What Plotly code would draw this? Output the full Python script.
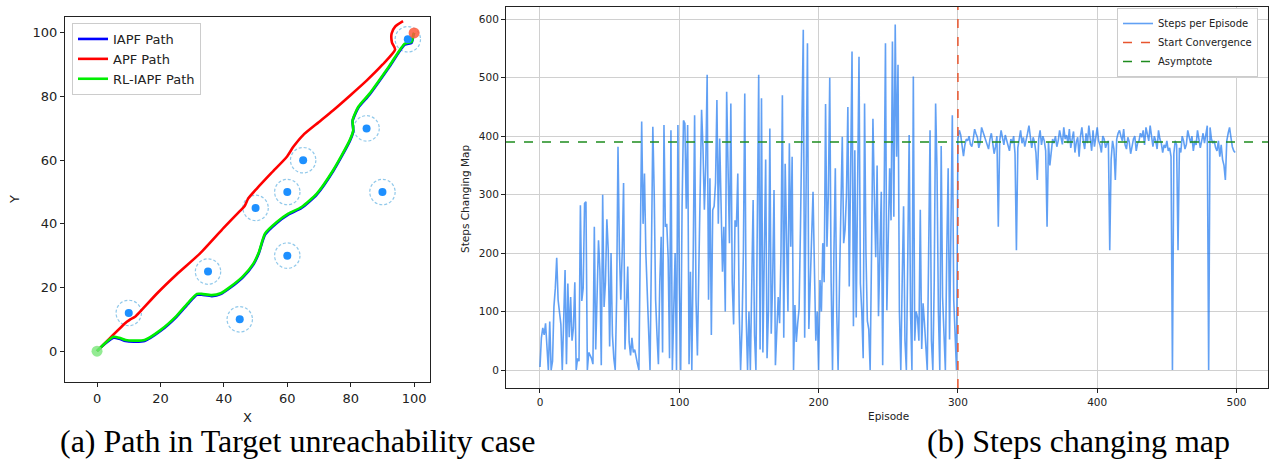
import plotly.graph_objects as go

# ---------------- data: left panel (paths) ----------------
apf_x = [0, 4, 9.4, 10.5, 12, 13.6, 18.9, 25, 32.5, 40, 45.1, 46.5, 47.7, 50.4, 55, 59.8, 61.9, 65, 70, 74.5, 80, 85, 90, 94, 93, 92.9, 94, 96.5]
apf_y = [0, 4, 9.2, 10, 10.8, 12.4, 18.1, 24, 30.7, 38.8, 44.1, 45.5, 48, 51.1, 56, 61, 64.2, 67.9, 72, 75.7, 80.5, 85, 90, 94.8, 97, 99.8, 102, 103.7]

iapf_x = [0, 2.5, 5.2, 7, 9, 11.5, 15, 20, 25, 29, 31.5, 33, 36.2, 39, 42, 46, 49.3, 51, 53, 56.7, 60.3, 64.5, 69.3, 74.5, 79.7, 80.8, 80.6, 82.4, 86, 92.3, 97, 99.2, 99.7, 100]
iapf_y = [0, 2.3, 4.2, 3.9, 3.2, 3.0, 3.2, 6.3, 10.7, 15.2, 17.7, 17.7, 17.3, 17.9, 19.9, 23.2, 27.2, 30.7, 36.6, 40.3, 42.9, 45.0, 49.2, 56.6, 66.0, 69.1, 72.3, 76.5, 80.7, 89.5, 96.3, 96.9, 99.0, 100]

rl_x = [0, 2.5, 5.2, 7, 9, 11.5, 15, 20, 25, 29, 31.5, 33, 36.2, 39, 42, 46, 49.3, 51, 53, 56.7, 60.3, 64.5, 69.3, 74.5, 79.7, 80.8, 80.6, 82.4, 86, 92.3, 97, 99.2, 99.7, 100]
rl_y = [0, 2.5, 4.5, 4.2, 3.5, 3.3, 3.5, 6.6, 11, 15.5, 18, 18, 17.6, 18.2, 20.2, 23.5, 27.5, 31, 37, 40.6, 43.2, 45.3, 49.5, 56.9, 66.3, 69.4, 72.6, 76.8, 81, 89.8, 96.6, 97.2, 99.3, 100]

obstacle_x = [10, 35, 45, 50, 60, 60, 65, 85, 90, 98]
obstacle_y = [12, 25, 10, 45, 50, 30, 60, 70, 50, 98]
obstacle_r = 4
start_xy = (0, 0)
goal_xy = (100, 100)

# ---------------- data: right panel (steps) ----------------
steps_0_299 = [
    5, 55, 72, 60, 80, 35, 0, 83, 0, 15,
    108, 140, 192, 120, 95, 78, 0, 100, 171, 10,
    148, 56, 125, 50, 72, 150, 0, 20, 15, 282,
    118, 140, 285, 288, 0, 30, 25, 20, 10, 245,
    35, 130, 222, 171, 8, 300, 108, 150, 258, 205,
    40, 200, 60, 20, 0, 120, 382, 206, 120, 200,
    320, 35, 100, 177, 48, 25, 55, 30, 35, 20,
    10, 0, 200, 425, 250, 336, 200, 120, 40, 0,
    200, 416, 300, 120, 60, 10, 150, 228, 30, 419,
    245, 250, 193, 20, 410, 0, 100, 200, 0, 419,
    150, 0, 280, 427, 422, 276, 419, 10, 168, 0,
    200, 436, 120, 25, 170, 300, 445, 380, 274, 350,
    505, 120, 328, 60, 274, 280, 320, 462, 250, 396,
    262, 168, 245, 100, 476, 300, 217, 456, 150, 78,
    256, 245, 336, 100, 0, 70, 200, 473, 92, 0,
    100, 0, 150, 291, 60, 0, 250, 505, 35, 465,
    30, 200, 360, 20, 100, 413, 62, 150, 308, 8,
    60, 125, 80, 200, 470, 55, 353, 213, 100, 388,
    211, 365, 0, 111, 48, 80, 105, 245, 400, 582,
    55, 300, 559, 70, 150, 250, 305, 174, 50, 100,
    0, 154, 100, 217, 150, 455, 211, 300, 500, 150,
    0, 200, 345, 100, 0, 150, 250, 399, 217, 240,
    300, 450, 143, 350, 545, 75, 376, 90, 300, 536,
    148, 100, 20, 456, 200, 84, 70, 0, 200, 430,
    300, 193, 350, 92, 200, 305, 8, 300, 559, 102,
    200, 345, 256, 562, 262, 591, 365, 522, 100, 0,
    150, 280, 50, 0, 190, 402, 100, 0, 502, 50,
    100, 90, 50, 274, 36, 114, 80, 40, 0, 200,
    410, 50, 0, 150, 456, 342, 100, 0, 383, 125,
    60, 0, 200, 345, 52, 300, 436, 120, 50, 0,
]
steps_300_499 = [
    395, 410, 402, 378, 366, 385, 395, 392, 400, 386,
    382, 395, 412, 404, 398, 380, 390, 415, 408, 400,
    392, 385, 378, 395, 405, 388, 370, 382, 400, 245,
    392, 410, 398, 385, 402, 392, 380, 375, 395, 388,
    400, 370, 205, 380, 395, 410, 388, 398, 382, 392,
    405, 418, 392, 380, 398, 390, 372, 325, 395, 410,
    385, 400, 392, 375, 245, 390, 350, 380, 395, 388,
    400, 382, 392, 410, 398, 386, 415, 395, 402, 388,
    412, 380, 395, 408, 372, 390, 398, 365, 400, 415,
    392, 378, 405, 388, 418, 395, 375, 410, 382, 398,
    415, 392, 385, 372, 400, 395, 380, 388, 392, 205,
    360, 392, 378, 325, 395, 405, 410, 400, 392, 412,
    385, 378, 398, 390, 370, 382, 395, 400, 375, 388,
    392, 405, 398, 410, 385, 415, 400, 392, 418, 395,
    382, 400, 392, 378, 410, 395, 388, 372, 385, 380,
    392, 375, 380, 365, 0, 370, 392, 385, 205, 380,
    372, 400, 392, 378, 386, 410, 395, 388, 400, 375,
    392, 385, 410, 398, 380, 392, 405, 388, 400, 418,
    0, 415, 395, 388, 392, 380, 375, 392, 365, 385,
    360, 350, 325, 392, 405, 415, 398, 382, 375, 372,
]
steps = steps_0_299 + steps_300_499
episodes = list(range(len(steps)))
convergence_episode = 300
asymptote = 390

# ---------------- figure ----------------
W, H = 1269, 459
fig = go.Figure()

fig.add_trace(go.Scatter(x=iapf_x, y=iapf_y, mode="lines", name="IAPF Path",
                         line=dict(color="#0000FF", width=2.6, shape="spline", smoothing=0.6),
                         xaxis="x", yaxis="y", legend="legend"))
fig.add_trace(go.Scatter(x=apf_x, y=apf_y, mode="lines", name="APF Path",
                         line=dict(color="#FF0000", width=2.6, shape="spline", smoothing=0.6),
                         xaxis="x", yaxis="y", legend="legend"))
fig.add_trace(go.Scatter(x=rl_x, y=rl_y, mode="lines", name="RL-IAPF Path",
                         line=dict(color="#00EE00", width=2.6, shape="spline", smoothing=0.6),
                         xaxis="x", yaxis="y", legend="legend"))
fig.add_trace(go.Scatter(x=obstacle_x, y=obstacle_y, mode="markers", showlegend=False,
                         marker=dict(color="#1E90FF", size=8),
                         xaxis="x", yaxis="y"))
fig.add_trace(go.Scatter(x=[start_xy[0]], y=[start_xy[1]], mode="markers", showlegend=False,
                         marker=dict(color="rgba(120,230,120,0.8)", size=11),
                         xaxis="x", yaxis="y"))
fig.add_trace(go.Scatter(x=[goal_xy[0]], y=[goal_xy[1]], mode="markers", showlegend=False,
                         marker=dict(color="rgba(255,90,60,0.85)", size=11),
                         xaxis="x", yaxis="y"))

for ox, oy in zip(obstacle_x, obstacle_y):
    fig.add_shape(type="circle", xref="x", yref="y", layer="below",
                  x0=ox - obstacle_r, x1=ox + obstacle_r, y0=oy - obstacle_r, y1=oy + obstacle_r,
                  line=dict(color="rgba(125,190,230,0.85)", width=1.2, dash="3px,2px"))

fig.add_trace(go.Scatter(x=episodes, y=steps, mode="lines", name="Steps per Episode",
                         line=dict(color="rgba(30,120,240,0.7)", width=1.6),
                         xaxis="x2", yaxis="y2", legend="legend2"))
fig.add_trace(go.Scatter(x=[None], y=[None], mode="lines", name="Start Convergence",
                         line=dict(color="#E8552E", width=1.5, dash="dash"),
                         xaxis="x2", yaxis="y2", legend="legend2"))
fig.add_trace(go.Scatter(x=[None], y=[None], mode="lines", name="Asymptote",
                         line=dict(color="#1E8C1E", width=1.5, dash="dash"),
                         xaxis="x2", yaxis="y2", legend="legend2"))
fig.add_shape(type="line", xref="x2", yref="y2 domain", x0=convergence_episode, x1=convergence_episode,
              y0=0, y1=1, line=dict(color="#E8552E", width=1.5, dash="dash"))
fig.add_shape(type="line", xref="x2 domain", yref="y2", x0=0, x1=1, y0=asymptote, y1=asymptote,
              line=dict(color="#1E8C1E", width=1.5, dash="dash"))

tickfont_l = dict(family="DejaVu Sans", size=13, color="#222")
tickfont_r = dict(family="DejaVu Sans", size=10.5, color="#222")

fig.update_layout(
    width=W, height=H,
    margin=dict(l=0, r=0, t=0, b=0),
    paper_bgcolor="white", plot_bgcolor="white",
    xaxis=dict(domain=[65 / W, 430 / W], range=[-10.1, 105], tickvals=[0, 20, 40, 60, 80, 100],
               showgrid=False, zeroline=False, showline=True, mirror=True, linecolor="#222", linewidth=1,
               ticks="outside", ticklen=4, tickcolor="#222", tickfont=tickfont_l, anchor="y"),
    yaxis=dict(domain=[1 - 382 / H, 1 - 17 / H], range=[-9.7, 105], tickvals=[0, 20, 40, 60, 80, 100],
               showgrid=False, zeroline=False, showline=True, mirror=True, linecolor="#222", linewidth=1,
               ticks="outside", ticklen=4, tickcolor="#222", tickfont=tickfont_l, anchor="x"),
    xaxis2=dict(domain=[506 / W, 1268 / W], range=[-24.4, 522.6], tickvals=[0, 100, 200, 300, 400, 500],
                showgrid=True, gridcolor="#d0d0d0", gridwidth=1, zeroline=False,
                showline=True, mirror=True, linecolor="#222", linewidth=1,
                ticks="outside", ticklen=4, tickcolor="#222", tickfont=tickfont_r, anchor="y2"),
    yaxis2=dict(domain=[1 - 388 / H, 1 - 7 / H], range=[-30.8, 621], tickvals=[0, 100, 200, 300, 400, 500, 600],
                showgrid=True, gridcolor="#d0d0d0", gridwidth=1, zeroline=False,
                showline=True, mirror=True, linecolor="#222", linewidth=1,
                ticks="outside", ticklen=4, tickcolor="#222", tickfont=tickfont_r, anchor="x2"),
    legend=dict(x=72 / W, y=1 - 23 / H, xanchor="left", yanchor="top",
                bgcolor="white", bordercolor="#cccccc", borderwidth=1,
                font=dict(family="DejaVu Sans", size=13, color="#222"), tracegroupgap=0),
    legend2=dict(x=1117 / W, y=1 - 8 / H, xanchor="left", yanchor="top",
                 bgcolor="white", bordercolor="#cccccc", borderwidth=1,
                 font=dict(family="DejaVu Sans", size=10, color="#222"), tracegroupgap=0),
    showlegend=True,
)

annots = [
    dict(text="X", x=247 / W, y=1 - 417 / H, font=dict(family="DejaVu Sans", size=13, color="#222")),
    dict(text="Y", x=14 / W, y=1 - 200 / H, textangle=-90, font=dict(family="DejaVu Sans", size=13, color="#222")),
    dict(text="Episode", x=888 / W, y=1 - 416 / H, font=dict(family="DejaVu Sans", size=10.5, color="#222")),
    dict(text="Steps Changing Map", x=465 / W, y=1 - 198 / H, textangle=-90,
         font=dict(family="DejaVu Sans", size=10.5, color="#222")),
]
for a in annots:
    fig.add_annotation(xref="paper", yref="paper", showarrow=False, xanchor="center", yanchor="middle", **a)

fig.add_annotation(text="(a) Path in Target unreachability case", xref="paper", yref="paper",
                   x=58 / W, y=1 - 441 / H, xanchor="left", yanchor="middle", showarrow=False,
                   font=dict(family="Liberation Serif", size=32, color="black"))
fig.add_annotation(text="(b) Steps changing map", xref="paper", yref="paper",
                   x=925 / W, y=1 - 441 / H, xanchor="left", yanchor="middle", showarrow=False,
                   font=dict(family="Liberation Serif", size=32, color="black"))

fig.write_html("out.html",
               config={"displayModeBar": False},
               post_script="document.body.style.margin='0';document.body.style.overflow='hidden';")
